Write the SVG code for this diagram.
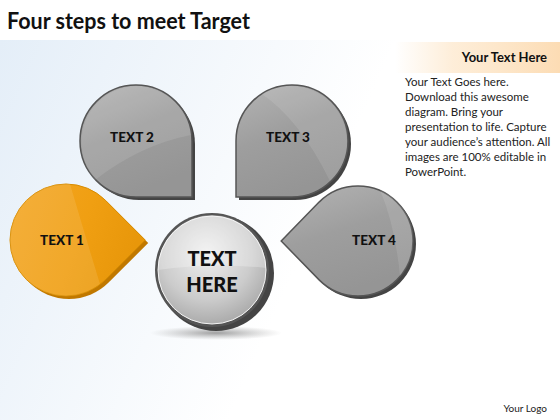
<svg xmlns="http://www.w3.org/2000/svg" width="560" height="420" viewBox="0 0 560 420">
<defs>
<style>
.lbl{font-family:Lato,"Liberation Sans",sans-serif;font-weight:900;fill:#111;text-anchor:middle}
.body{font-family:Lato,"Liberation Sans",sans-serif;font-size:11.5px;fill:#222}
.rim{fill:#444}
.face{fill:url(#gface);stroke:#555;stroke-width:1.5}
.gloss{fill:#fff;opacity:0.1}
</style>
<linearGradient id="gbg" x1="0" y1="0" x2="1" y2="0.3">
<stop offset="0" stop-color="#e4eef8"/>
<stop offset="0.65" stop-color="#ffffff"/>
</linearGradient>
<linearGradient id="ghead" x1="0" y1="0" x2="1" y2="0">
<stop offset="0" stop-color="#fde6c8" stop-opacity="0"/>
<stop offset="0.35" stop-color="#fde6c8" stop-opacity="0.7"/>
<stop offset="1" stop-color="#fcdcb4"/>
</linearGradient>
<linearGradient id="gface" x1="0" y1="0" x2="0.4" y2="1">
<stop offset="0" stop-color="#b4b4b4"/>
<stop offset="0.5" stop-color="#9e9e9e"/>
<stop offset="1" stop-color="#959595"/>
</linearGradient>
<linearGradient id="gorange" x1="0" y1="0" x2="1" y2="0.3">
<stop offset="0" stop-color="#f3a625"/>
<stop offset="0.6" stop-color="#f09f12"/>
<stop offset="1" stop-color="#e8970a"/>
</linearGradient>
<radialGradient id="gcirc" cx="0.45" cy="0.35" r="0.7">
<stop offset="0" stop-color="#efefef"/>
<stop offset="0.6" stop-color="#cccccc"/>
<stop offset="1" stop-color="#a5a5a5"/>
</radialGradient>
<radialGradient id="gshadow" cx="0.5" cy="0.5" r="0.5">
<stop offset="0" stop-color="#777" stop-opacity="0.7"/>
<stop offset="1" stop-color="#999" stop-opacity="0"/>
</radialGradient>
</defs>
<rect width="560" height="420" fill="#fff"/>
<rect x="0" y="40" width="560" height="380" fill="url(#gbg)"/>
<rect x="395" y="42" width="165" height="31" fill="url(#ghead)"/>
<text x="7" y="29" font-family="Lato,'Liberation Sans',sans-serif" font-weight="bold" font-size="22" fill="#111" textLength="243" lengthAdjust="spacingAndGlyphs">Four steps to meet Target</text>
<text x="547" y="62" font-family="Lato,'Liberation Sans',sans-serif" font-weight="bold" font-size="13" fill="#111" text-anchor="end">Your Text Here</text>
<g class="body">
<text x="405" y="86">Your Text Goes here.</text>
<text x="405" y="101">Download this awesome</text>
<text x="405" y="116">diagram. Bring your</text>
<text x="405" y="131">presentation to life. Capture</text>
<text x="405" y="146">your audience’s attention. All</text>
<text x="405" y="161">images are 100% editable in</text>
<text x="405" y="176">PowerPoint.</text>
</g>
<text x="547" y="412" font-family="Lato,'Liberation Sans',sans-serif" font-size="10" fill="#222" text-anchor="end">Your Logo</text>
<g id="connectors"></g>
<g id="node-text2">
<path class="rim" d="M83,144 A56,56 0 0 1 139,88 A56,56 0 0 1 195,144 L195,200 L139,200 A56,56 0 0 1 83,144 Z"/>
<path class="face" d="M80,141 A56,56 0 0 1 136,85 A56,56 0 0 1 192,141 L192,197 L136,197 A56,56 0 0 1 80,141 Z"/>
<path class="gloss" d="M82,150 A56,56 0 0 1 136,86 A56,56 0 0 1 191,135 Q140,145 95,180 A56,56 0 0 1 82,150 Z"/>
<text class="lbl" x="132" y="142" font-size="13.5">TEXT 2</text>
</g>
<g id="node-text3">
<path class="rim" d="M239,144 A56,56 0 0 1 295,88 A56,56 0 0 1 351,144 A56,56 0 0 1 295,200 L239,200 Z"/>
<path class="face" d="M236,141 A56,56 0 0 1 292,85 A56,56 0 0 1 348,141 A56,56 0 0 1 292,197 L236,197 Z"/>
<path class="gloss" d="M262,94 A56,56 0 0 1 347,141 A56,56 0 0 1 330,181 Q300,120 262,94 Z"/>
<text class="lbl" x="288" y="142" font-size="13.5">TEXT 3</text>
</g>
<g id="node-text1">
<path fill="#c07800" d="M108.6,203.4 L148.2,243 L108.6,282.6 A56,56 0 1 1 108.6,203.4 Z"/>
<path fill="url(#gorange)" stroke="#d88c00" stroke-width="1" d="M105.6,200.4 L145.2,240 L105.6,279.6 A56,56 0 1 1 105.6,200.4 Z"/>
<path fill="#fff" opacity="0.1" d="M40,190 A56,56 0 0 1 66,184 L70,184 Q85,235 100,284 A56,56 0 0 1 66,296 A56,56 0 0 1 10,240 A56,56 0 0 1 40,190 Z"/>
<text class="lbl" x="62" y="245" font-size="13.5">TEXT 1</text>
</g>
<g id="node-text4">
<path class="rim" d="M322.1,205.1 A55,55 0 1 1 322.1,282.9 L284.2,244 Z"/>
<path class="face" d="M319.1,202.1 A55,55 0 1 1 319.1,279.9 L281.2,241 Z"/>
<path class="gloss" d="M380,190 A55,55 0 0 1 413,241 A55,55 0 0 1 400,276 Q395,225 380,190 Z"/>
<text class="lbl" x="374" y="245" font-size="13.5">TEXT 4</text>
</g>
<g id="node-center">
<ellipse cx="216" cy="333" rx="66" ry="7" fill="url(#gshadow)"/>
<circle cx="216" cy="273" r="58" fill="#444"/>
<circle cx="212" cy="270" r="57" fill="#555"/>
<circle cx="212" cy="270" r="54" fill="url(#gcirc)" stroke="#f4f4f4" stroke-width="1"/>
<path fill="#fff" opacity="0.25" d="M158,270 A54,54 0 0 1 266,268 Q212,262 158,270 Z"/>
<text class="lbl" x="212" y="266" font-size="20">TEXT</text>
<text class="lbl" x="212" y="292" font-size="20">HERE</text>
</g>
</svg>
